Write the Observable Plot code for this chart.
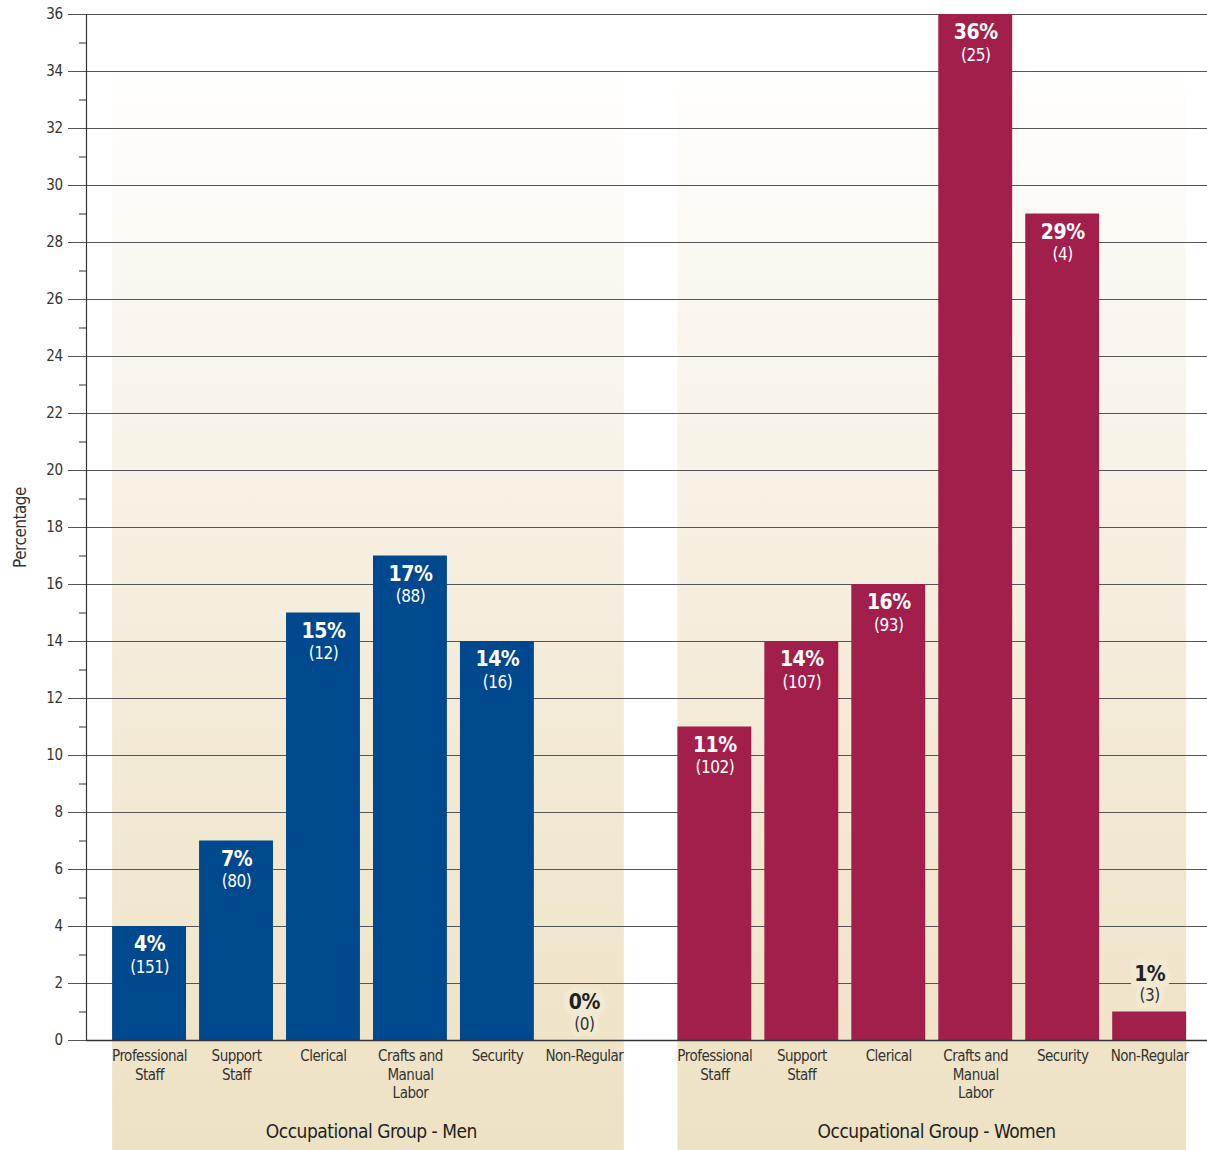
<!DOCTYPE html>
<html>
<head>
<meta charset="utf-8">
<script src="https://cdn.jsdelivr.net/npm/d3@7"></script>
<script src="https://cdn.jsdelivr.net/npm/@observablehq/plot@0.6"></script>
<style>
  html, body { margin: 0; padding: 0; background: #ffffff; }
  #chart { width: 1207px; height: 1150px; }
  #chart svg text { letter-spacing: -0.5px; }
</style>
</head>
<body>
<div id="chart"></div>
<script>
// ---- data ----
const categories = ["Professional\nStaff", "Support\nStaff", "Clerical", "Crafts and\nManual\nLabor", "Security", "Non-Regular"];
const groups = ["Occupational Group - Men", "Occupational Group - Women"];
const menPct = [4, 7, 15, 17, 14, 0];
const menCount = [151, 80, 12, 88, 16, 0];
const womenPct = [11, 14, 16, 36, 29, 1];
const womenCount = [102, 107, 93, 25, 4, 3];
const yTicks = [0, 2, 4, 6, 8, 10, 12, 14, 16, 18, 20, 22, 24, 26, 28, 30, 32, 34, 36];
const yMinorTicks = [1, 3, 5, 7, 9, 11, 13, 15, 17, 19, 21, 23, 25, 27, 29, 31, 33, 35];

const colors = ["#00498f", "#a31f4b"];
const barWidth = 0.85;     // fraction of one category step
const groupGap = 0.5;      // extra gap (in steps) between the two groups

// table built from the arrays
const rows = [];
[[menPct, menCount], [womenPct, womenCount]].forEach(([pcts, counts], g) => {
  pcts.forEach((p, i) => {
    const pos = g * (categories.length + groupGap) + i;
    rows.push({group: groups[g], g, category: categories[i], pct: p, count: counts[i],
               x1: pos, x2: pos + barWidth, xc: pos + barWidth / 2});
  });
});
const groupInfo = groups.map((name, g) => {
  const r = rows.filter(d => d.g === g);
  return {name, g, x1: r[0].x1, x2: r[r.length - 1].x2, xc: (r[0].x1 + r[r.length - 1].x2) / 2 + 0.05};
});

const font = "'Liberation Sans Narrow', 'DejaVu Sans Condensed', 'Roboto', sans-serif";
const textColor = "#333333";

// background panels with vertical gradient
const panels = (index, scales, values, dims) => {
  const g = d3.create("svg:g");
  const grad = g.append("defs").append("linearGradient")
    .attr("id", "panelGrad").attr("x1", 0).attr("y1", 0).attr("x2", 0).attr("y2", 1);
  grad.append("stop").attr("offset", "0%").attr("stop-color", "#ffffff");
  grad.append("stop").attr("offset", "25%").attr("stop-color", "#faf6ee");
  grad.append("stop").attr("offset", "62%").attr("stop-color", "#f3ead6");
  grad.append("stop").attr("offset", "100%").attr("stop-color", "#eee2c4");
  const top = scales.y(34.5);
  groupInfo.forEach(p => {
    g.append("rect")
      .attr("x", scales.x(p.x1))
      .attr("width", scales.x(p.x2) - scales.x(p.x1) + (p.g === 0 ? 3 : 0))
      .attr("y", top)
      .attr("height", dims.height - top)
      .attr("fill", "url(#panelGrad)");
  });
  return g.node();
};

const big = rows.filter(d => d.pct >= 2);
const small = rows.filter(d => d.pct < 2);

const chart = Plot.plot({
  width: 1207,
  height: 1150,
  marginTop: 14,
  marginBottom: 110,
  marginLeft: 86,
  marginRight: 0,
  x: {domain: [-0.3, 12.59], axis: null},
  y: {domain: [0, 36], axis: null},
  style: {fontFamily: font, background: "#ffffff", color: textColor},
  marks: [
    panels,
    // gridlines
    Plot.ruleY(yTicks.filter(t => t > 0), {stroke: "#555555", strokeWidth: 1.2}),
    // y axis ticks and labels
    Plot.axisY({ticks: yTicks, tickSize: 18, tickPadding: 6, tickFormat: d => d, fontSize: 15, stroke: "#555555", fill: textColor, label: null}),
    Plot.axisY({ticks: yMinorTicks, tickSize: 7, tickFormat: () => "", stroke: "#333333", label: null}),
    Plot.text(["Percentage"], {frameAnchor: "left", textAnchor: "middle", dx: -66, rotate: -90, fontSize: 17, fill: textColor}),
    // bars
    Plot.rectY(rows, {x1: "x1", x2: "x2", y1: 0, y2: "pct", fill: d => colors[d.g]}),
    // axis lines
    Plot.ruleY([0], {stroke: "#333333", strokeWidth: 1.5}),
    Plot.frame({anchor: "left", stroke: "#333333", strokeWidth: 1.2}),
    // labels inside bars
    Plot.text(big, {x: "xc", y: "pct", text: d => `${d.pct}%`, dy: 18, fill: "white", fontSize: 21, fontWeight: "bold"}),
    Plot.text(big, {x: "xc", y: "pct", text: d => `(${d.count})`, dy: 41, fill: "white", fontSize: 17}),
    // labels above small bars
    Plot.text(small, {x: "xc", y: "pct", text: d => `${d.pct}%`, dy: -38, fill: "#222222", fontSize: 21, fontWeight: "bold", stroke: "#f2e9d3", strokeWidth: 12}),
    Plot.text(small, {x: "xc", y: "pct", text: d => `(${d.count})`, dy: -16, fill: "#333333", fontSize: 17, stroke: "#f2e9d3", strokeWidth: 10}),
    // category labels
    Plot.text(rows, {x: "xc", y: 0, text: "category", dy: 7, lineAnchor: "top", lineHeight: 1.25, fontSize: 15, fill: textColor}),
    // group labels
    Plot.text(groupInfo, {x: "xc", y: 0, text: "name", dy: 91, fontSize: 19, fill: "#222222"})
  ]
});

document.getElementById("chart").appendChild(chart);
</script>
</body>
</html>
